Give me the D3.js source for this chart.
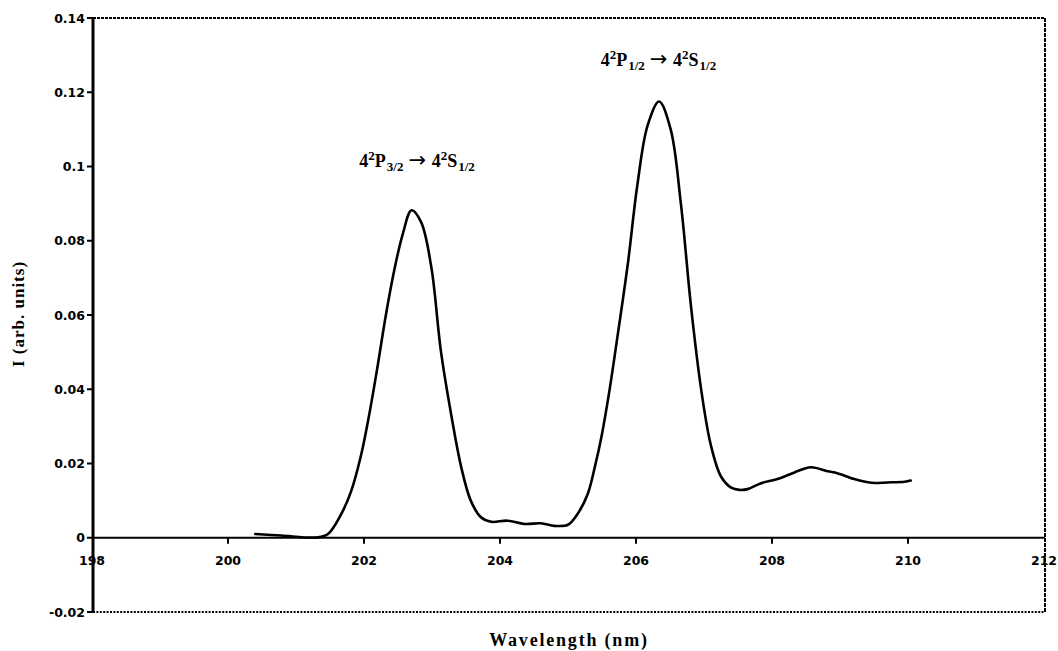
<!DOCTYPE html>
<html>
<head>
<meta charset="utf-8">
<script src="https://cdn.jsdelivr.net/npm/d3@7"></script>
<style>
  html, body { margin: 0; padding: 0; background: #fff; }
  svg { display: block; }
</style>
</head>
<body>
<svg id="chart" width="1058" height="651"></svg>
<script>
// Emission spectrum: wavelength (nm) and intensity (arb. units)
const wavelength = [
  200.40, 200.78, 201.32, 201.47, 201.66, 201.81, 201.96, 202.08, 202.20, 202.32,
  202.45, 202.57, 202.70, 202.84, 202.99, 203.13, 203.28, 203.43, 203.57, 203.72,
  203.87, 204.11, 204.36, 204.60, 204.80, 205.00, 205.14, 205.29, 205.40, 205.49,
  205.61, 205.73, 205.88, 206.02, 206.17, 206.34, 206.51, 206.66, 206.81, 206.96,
  207.10, 207.25, 207.40, 207.52, 207.64, 207.84, 208.08, 208.33, 208.57, 208.82,
  208.96, 209.21, 209.46, 209.70, 209.95, 210.04
];
const intensity = [
  0.0010, 0.0006, 0.0001, 0.0010, 0.0062, 0.0125, 0.0225, 0.0335, 0.0462, 0.0598,
  0.0725, 0.0818, 0.0882, 0.0850, 0.0729, 0.0504, 0.0334, 0.0190, 0.0100, 0.0055,
  0.0043, 0.0046, 0.0037, 0.0039, 0.0032, 0.0035, 0.0064, 0.0118, 0.0195, 0.0270,
  0.0397, 0.0545, 0.0738, 0.0950, 0.1110, 0.1175, 0.1100, 0.0900, 0.0621, 0.0397,
  0.0250, 0.0165, 0.0135, 0.0129, 0.0131, 0.0147, 0.0158, 0.0176, 0.0190, 0.0179,
  0.0174, 0.0158, 0.0148, 0.0149, 0.0151, 0.0154
];

const xTicks = [198, 200, 202, 204, 206, 208, 210, 212];
const yTicks = [-0.02, 0, 0.02, 0.04, 0.06, 0.08, 0.1, 0.12, 0.14];
const yTickLabels = ["-0.02", "0", "0.02", "0.04", "0.06", "0.08", "0.1", "0.12", "0.14"];

// Transition labels: pieces tagged as superscript / subscript / arrow
const transitions = [
  { x: 202.78, y: 0.1, parts: [["4",""],["2","sup"],["P",""],["3/2","sub"],["\u2192","arrow"],["4",""],["2","sup"],["S",""],["1/2","sub"]] },
  { x: 206.33, y: 0.127, parts: [["4",""],["2","sup"],["P",""],["1/2","sub"],["\u2192","arrow"],["4",""],["2","sup"],["S",""],["1/2","sub"]] }
];

const xTitle = "Wavelength (nm)";
const yTitle = "I (arb. units)";

const svg = d3.select("#chart");
const plotL = 93, plotR = 1045, plotT = 18, plotB = 612;

const x = d3.scaleLinear().domain([198, 212]).range([plotL - 1, 1044]);
const y = d3.scaleLinear().domain([-0.02, 0.14]).range([plotB, plotT]);

svg.append("rect").attr("width", 1058).attr("height", 651).attr("fill", "#fff");

const tickFont = "'DejaVu Sans', sans-serif";
const serif = "'Liberation Serif', 'Times New Roman', serif";

// Frame: dotted top, right and bottom edges
svg.append("line")
  .attr("x1", plotL).attr("x2", plotR).attr("y1", plotT).attr("y2", plotT)
  .attr("stroke", "#000").attr("stroke-width", 2).attr("stroke-dasharray", "3,1");
svg.append("line")
  .attr("x1", plotL).attr("x2", plotR).attr("y1", plotB).attr("y2", plotB)
  .attr("stroke", "#000").attr("stroke-width", 2).attr("stroke-dasharray", "2,1.4");
svg.append("line")
  .attr("x1", plotR).attr("x2", plotR).attr("y1", plotT).attr("y2", plotB)
  .attr("stroke", "#000").attr("stroke-width", 2).attr("stroke-dasharray", "4,1");

// Y axis: ticks and labels on the left
const yAxis = svg.append("g");
yAxis.selectAll("line").data(yTicks).join("line")
  .attr("x1", plotL - 6).attr("x2", plotL)
  .attr("y1", d => y(d)).attr("y2", d => y(d))
  .attr("stroke", "#000").attr("stroke-width", 2);
yAxis.selectAll("text").data(yTicks).join("text")
  .attr("x", plotL - 8).attr("y", d => y(d))
  .attr("dy", "0.36em")
  .attr("text-anchor", "end")
  .attr("font-family", tickFont).attr("font-weight", "bold").attr("font-size", 12.5)
  .text((d, i) => yTickLabels[i]);

// X axis along zero, ticks hanging below
const xAxis = svg.append("g");
xAxis.selectAll("line").data(xTicks.slice(1, -1)).join("line")
  .attr("x1", d => x(d)).attr("x2", d => x(d))
  .attr("y1", y(0)).attr("y2", y(0) + 6)
  .attr("stroke", "#000").attr("stroke-width", 2);
xAxis.selectAll("text").data(xTicks).join("text")
  .attr("x", d => x(d)).attr("y", y(0) + 27)
  .attr("text-anchor", "middle")
  .attr("font-family", tickFont).attr("font-weight", "bold").attr("font-size", 12.5)
  .text(d => d);

svg.append("line")
  .attr("x1", plotL).attr("x2", plotR).attr("y1", y(0)).attr("y2", y(0))
  .attr("stroke", "#000").attr("stroke-width", 2.2);

// Left axis line
svg.append("line")
  .attr("x1", plotL).attr("x2", plotL).attr("y1", plotT).attr("y2", plotB)
  .attr("stroke", "#000").attr("stroke-width", 3);

// Spectrum
const pts = wavelength.map((w, i) => [w, intensity[i]]);
svg.append("path")
  .datum(pts)
  .attr("fill", "none")
  .attr("stroke", "#000")
  .attr("stroke-width", 2.6)
  .attr("stroke-linejoin", "round")
  .attr("stroke-linecap", "round")
  .attr("d", d3.line().x(d => x(d[0])).y(d => y(d[1])).curve(d3.curveCatmullRom.alpha(0.5)));

// Transition labels
transitions.forEach(t => {
  const txt = svg.append("text")
    .attr("x", x(t.x)).attr("y", y(t.y))
    .attr("text-anchor", "middle")
    .attr("font-family", serif).attr("font-weight", "bold").attr("font-size", 18);
  let shift = 0;
  t.parts.forEach(([s, kind]) => {
    const target = kind === "sup" ? -7 : kind === "sub" ? 4 : 0;
    const small = kind === "sup" || kind === "sub";
    const ts = txt.append("tspan")
      .attr("dy", target - shift)
      .attr("font-size", small ? 13 : 18)
      .attr("dx", kind === "sub" ? 1 : 0)
      .text(s);
    if (kind === "arrow") {
      ts.attr("font-family", tickFont).attr("font-weight", "normal")
        .attr("font-size", 21).attr("dx", 5);
      txt.append("tspan").attr("font-size", 18).attr("dx", 2).text("\u2009");
    }
    shift = target;
  });
});

// Axis titles
svg.append("text")
  .attr("x", (plotL + plotR) / 2).attr("y", 646)
  .attr("text-anchor", "middle")
  .attr("font-family", serif).attr("font-weight", "bold").attr("font-size", 18)
  .attr("letter-spacing", 1.8)
  .text(xTitle);

svg.append("text")
  .attr("transform", "translate(24,314) rotate(-90)")
  .attr("text-anchor", "middle")
  .attr("font-family", serif).attr("font-weight", "bold").attr("font-size", 17)
  .attr("letter-spacing", 1)
  .text(yTitle);
</script>
</body>
</html>
